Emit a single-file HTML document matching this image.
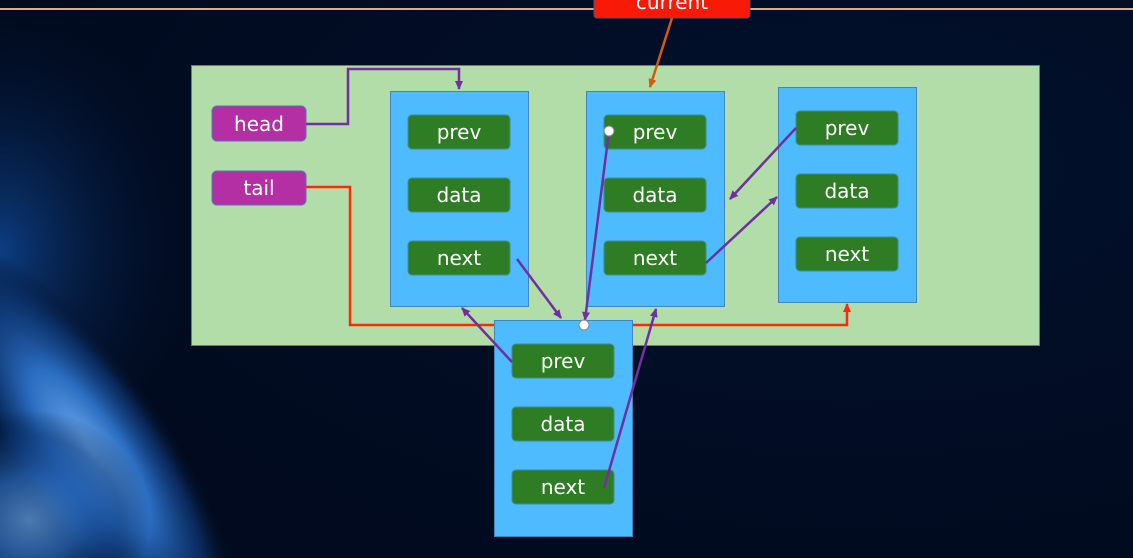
<!DOCTYPE html>
<html><head><meta charset="utf-8"><style>
html,body{margin:0;padding:0;width:1133px;height:558px;overflow:hidden;background:#020c22;}
svg{display:block;overflow:hidden}
text{font-family:"DejaVu Sans","Liberation Sans",sans-serif;fill:#fff;font-size:20px;text-anchor:middle;}
</style></head><body>
<svg width="1133" height="558" viewBox="0 0 1133 558">
<defs>
<radialGradient id="bg" cx="0.75" cy="0.3" r="0.8">
<stop offset="0" stop-color="#02112c"/><stop offset="1" stop-color="#010a1e"/></radialGradient>
<radialGradient id="glow" cx="0.5" cy="0.5" r="0.5">
<stop offset="0" stop-color="#6aa8ec"/><stop offset="0.4" stop-color="#2a6cc0"/><stop offset="0.75" stop-color="#0c3572" stop-opacity="0.7"/><stop offset="1" stop-color="#020c22" stop-opacity="0"/></radialGradient>
<radialGradient id="glow2" cx="0.5" cy="0.5" r="0.5">
<stop offset="0" stop-color="#0f4a9a" stop-opacity="0.8"/><stop offset="1" stop-color="#020c22" stop-opacity="0"/></radialGradient>
<marker id="ap" markerWidth="10" markerHeight="10" refX="8" refY="5" orient="auto" markerUnits="userSpaceOnUse"><path d="M0,1 L9,5 L0,9 z" fill="#7030a0"/></marker>
<marker id="ar" markerWidth="10" markerHeight="10" refX="8" refY="5" orient="auto" markerUnits="userSpaceOnUse"><path d="M0,1 L9,5 L0,9 z" fill="#ff2a00"/></marker>
<marker id="ao" markerWidth="10" markerHeight="10" refX="8" refY="5" orient="auto" markerUnits="userSpaceOnUse"><path d="M0,1 L9,5 L0,9 z" fill="#d05a10"/></marker>
</defs>
<rect width="1133" height="558" fill="url(#bg)"/>
<ellipse cx="0" cy="250" rx="200" ry="260" fill="url(#glow2)"/>
<ellipse cx="90" cy="450" rx="80" ry="240" transform="rotate(-35 90 450)" fill="url(#glow)"/>
<ellipse cx="30" cy="520" rx="120" ry="110" fill="url(#glow)" opacity="0.7"/>
<line x1="0" y1="9" x2="1133" y2="9" stroke="#d8b080" stroke-width="2"/>
<rect x="594" y="-10" width="156" height="28" rx="3" fill="#f81a06" stroke="#3a5a8a"/>
<text x="672" y="9">current</text>
<rect x="191.5" y="65.5" width="848" height="280" fill="#b2dca8" stroke="#3f86c0"/>
<rect x="212" y="106" width="94" height="35" rx="5" fill="#b32fa3" stroke="#4a7ab8"/>
<text x="259" y="131">head</text>
<rect x="212" y="171" width="94" height="34" rx="5" fill="#b32fa3" stroke="#4a7ab8"/>
<text x="259" y="195">tail</text>
<polyline points="306,124 348,124 348,69 459,69 459,89" fill="none" stroke="#7030a0" stroke-width="2.5" marker-end="url(#ap)"/>
<polyline points="306,187 350,187 350,325 847,325 847,304" fill="none" stroke="#ff2a00" stroke-width="2.5" marker-end="url(#ar)"/>
<g stroke="#3f86c0" fill="#4dbbfd">
<rect x="390.5" y="91.5" width="138" height="215"/>
<rect x="586.5" y="91.5" width="138" height="215"/>
<rect x="778.5" y="87.5" width="138" height="215"/>
</g>
<g fill="#2e7d24" stroke="#3a8f9a">
<rect x="408" y="115" width="102" height="34" rx="4"/><rect x="408" y="178" width="102" height="34" rx="4"/><rect x="408" y="241" width="102" height="34" rx="4"/>
<rect x="604" y="115" width="102" height="34" rx="4"/><rect x="604" y="178" width="102" height="34" rx="4"/><rect x="604" y="241" width="102" height="34" rx="4"/>
<rect x="796" y="111" width="102" height="34" rx="4"/><rect x="796" y="174" width="102" height="34" rx="4"/><rect x="796" y="237" width="102" height="34" rx="4"/>
</g>
<text x="459" y="139">prev</text><text x="459" y="202">data</text><text x="459" y="265">next</text>
<text x="655" y="139">prev</text><text x="655" y="202">data</text><text x="655" y="265">next</text>
<text x="847" y="135">prev</text><text x="847" y="198">data</text><text x="847" y="261">next</text>
<rect x="494.5" y="320.5" width="138" height="216" fill="#4dbbfd" stroke="#3f86c0"/>
<g fill="#2e7d24" stroke="#3a8f9a">
<rect x="512" y="344" width="102" height="34" rx="4"/><rect x="512" y="407" width="102" height="34" rx="4"/><rect x="512" y="470" width="102" height="34" rx="4"/>
</g>
<text x="563" y="368">prev</text><text x="563" y="431">data</text><text x="563" y="494">next</text>
<g stroke="#7030a0" stroke-width="2.5" fill="none">
<line x1="672" y1="18" x2="650" y2="87" stroke="#d05a10" marker-end="url(#ao)"/>
<line x1="517" y1="259" x2="561" y2="318" marker-end="url(#ap)"/>
<line x1="512" y1="362" x2="462" y2="308" marker-end="url(#ap)"/>
<line x1="609" y1="131" x2="585" y2="320" marker-end="url(#ap)"/>
<line x1="604" y1="488" x2="656" y2="309" marker-end="url(#ap)"/>
<line x1="706" y1="263" x2="777" y2="197" marker-end="url(#ap)"/>
<line x1="796" y1="128" x2="730" y2="199" marker-end="url(#ap)"/>
</g>
<circle cx="609" cy="131" r="5" fill="#fff" stroke="#888"/>
<circle cx="584" cy="325" r="5" fill="#fff" stroke="#888"/>
</svg>
</body></html>
